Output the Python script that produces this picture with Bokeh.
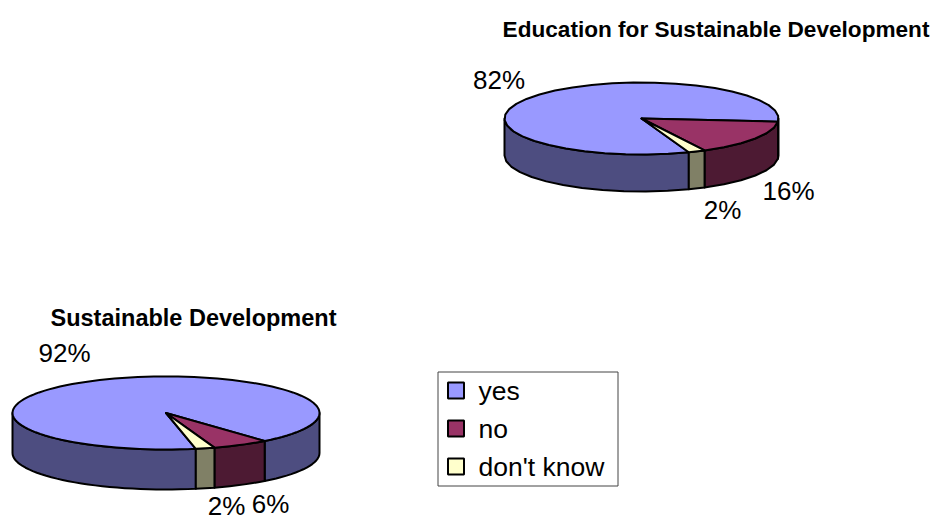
import numpy as np
from bokeh.core.properties import value
from bokeh.embed import file_html
from bokeh.models import Range1d
from bokeh.plotting import figure
from bokeh.resources import INLINE

# Survey answers, in percent
categories = ["yes", "no", "don't know"]
education_values = [82, 16, 2]
sustainable_values = [92, 6, 2]
titles = ["Education for Sustainable Development", "Sustainable Development"]

top_colors = {"yes": "#9999FF", "no": "#993366", "don't know": "#FFFFCC"}
side_colors = {"yes": "#4D4D80", "no": "#4D1A33", "don't know": "#808066"}
FONT = "Liberation Sans"

# Canvas coordinates double as data coordinates, with y growing downward
p = figure(width=932, height=521, output_backend="svg", toolbar_location=None,
           x_range=Range1d(0, 932), y_range=Range1d(521, 0), min_border=0)
p.axis.visible = False
p.grid.visible = False
p.outline_line_color = None
p.background_fill_color = "white"


def arc(cx, cy, rx, ry, a0, a1, step):
    n = max(2, int(round((a1 - a0) / step)) + 1)
    t = np.radians(np.linspace(a0, a1, n))
    return cx + rx * np.cos(t), cy + ry * np.sin(t)


def pie_shapes(vals, cx, cy, rx, ry, depth, first_angle, step):
    """Slice polygons of a tilted pie; 'no' starts at first_angle, clockwise on screen."""
    order = [1, 2, 0]
    faces, sides = {}, {}
    a = first_angle
    for i in order:
        name = categories[i]
        b = a + vals[i] * 3.6
        x, y = arc(cx, cy, rx, ry, a, b, step)
        faces[name] = (np.r_[cx, x], np.r_[cy, y])
        # only the part of the rim that faces the viewer gets a wall
        walls = []
        for lo, hi in ((a, b), (a - 360, b - 360)):
            lo, hi = max(lo, 0), min(hi, 180)
            if hi > lo:
                xs, ys = arc(cx, cy, rx, ry, lo, hi, step)
                walls.append((np.r_[xs, xs[::-1]], np.r_[ys, ys[::-1] + depth]))
        sides[name] = walls
        a = b
    return faces, sides


pies = [
    pie_shapes(education_values, 641, 118, 137, 36, 37, 5, 9),
    pie_shapes(sustainable_values, 165.5, 412.5, 153.5, 36.5, 40, 50, 3),
]

for name in categories:
    xs, ys = [], []
    for _, sides in pies:
        for wx, wy in sides[name]:
            xs.append(wx)
            ys.append(wy)
    p.patches(xs, ys, fill_color=side_colors[name], line_color="black", line_width=2,
              line_join="round")

for name in categories:
    xs = [faces[name][0] for faces, _ in pies]
    ys = [faces[name][1] for faces, _ in pies]
    p.patches(xs, ys, fill_color=top_colors[name], line_color="black",
              line_width=2, line_join="round")

# Percentage labels
label_spots = [
    (education_values[0], 498.5, 79), (education_values[1], 788, 190), (education_values[2], 722, 209),
    (sustainable_values[0], 64, 352), (sustainable_values[1], 270, 503), (sustainable_values[2], 226, 505.5),
]
p.text([s[1] for s in label_spots], [s[2] for s in label_spots],
       text=[f"{s[0]}%" for s in label_spots], text_font=value(FONT), text_font_size="26px",
       text_color="black", text_align="center", text_baseline="middle")

# Pie headings
p.text([715.5], [29], text=[titles[0]], text_font=value(FONT), text_font_size="22.6px",
       text_font_style="bold", text_color="black", text_align="center", text_baseline="middle")
p.text([193], [317], text=[titles[1]], text_font=value(FONT), text_font_size="23.5px",
       text_font_style="bold", text_color="black", text_align="center", text_baseline="middle")

# Key box with one swatch and label per answer
p.quad(left=[437.5], right=[617.5], top=[371.5], bottom=[485.5], fill_color="white",
       line_color="#444444", line_width=1)
key_y = [390, 428, 466]
p.rect([455.5] * 3, key_y, width=16, height=16, fill_color=[top_colors[c] for c in categories],
       line_color="black", line_width=2)
p.text([478] * 3, key_y, text=categories, text_font=value(FONT), text_font_size="26.5px",
       text_color="black", text_align="left", text_baseline="middle")

open("out.html", "w").write(file_html(p, INLINE))
